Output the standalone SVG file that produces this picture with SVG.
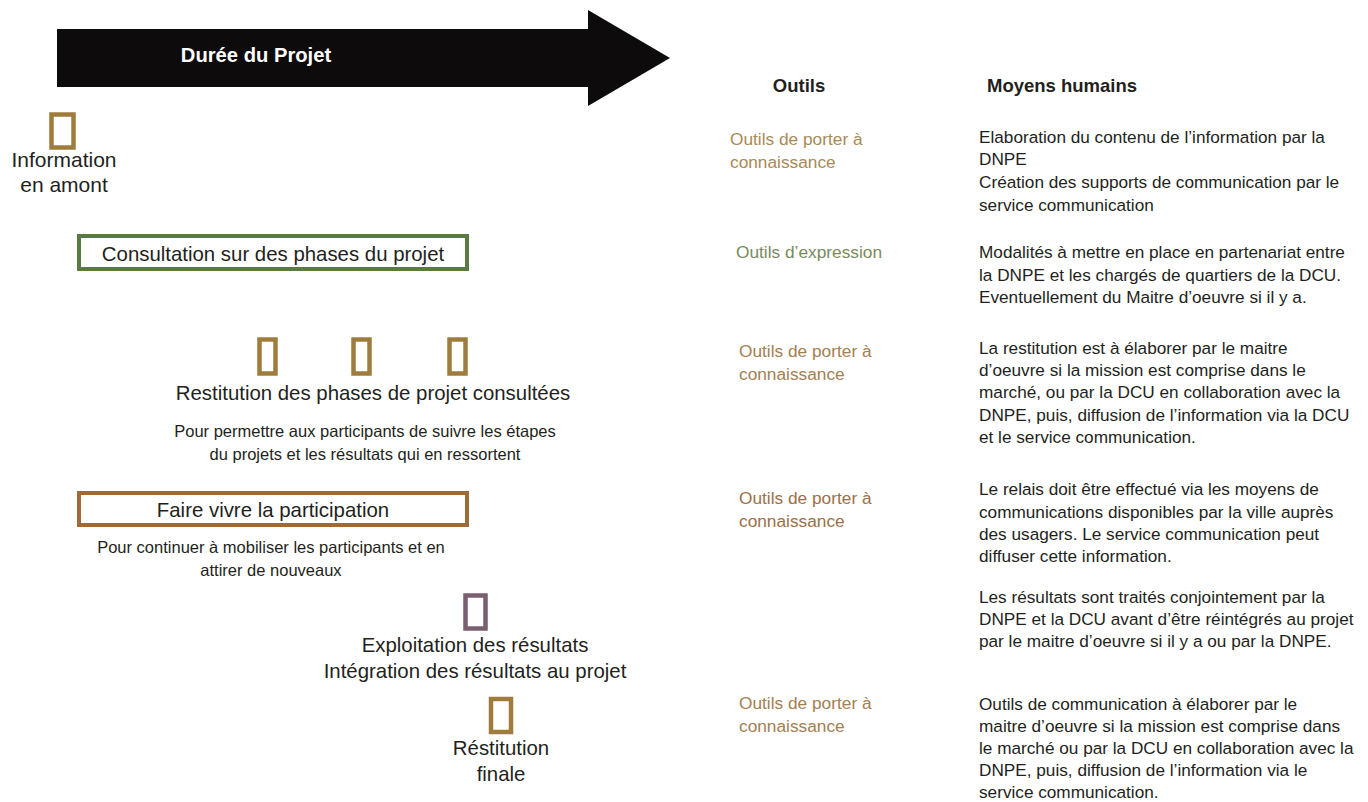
<svg xmlns="http://www.w3.org/2000/svg" width="1368" height="802" viewBox="0 0 1368 802">
<style>
text{font-family:"Liberation Sans","Noto Sans",Arial,sans-serif;fill:#231f20}
.lab{font-size:20.4px}
.lab2{font-size:21px}
.sub{font-size:16.5px}
.hd{font-size:18.5px;font-weight:bold}
.rh{font-size:17.2px}
.tl{font-size:17.3px}
.mk{fill:none;stroke-width:4.5}
.gold{stroke:#a07c3c}
.c{text-anchor:middle}
</style>
<rect width="1368" height="802" fill="#ffffff"/>
<g id="timeline">
<polygon points="57,29 588,29 588,10 670,58 588,106 588,87 57,87" fill="#0d0b0b"/>
<text x="256" y="62" class="c" style="font-size:20.2px;font-weight:bold;fill:#ffffff">Durée du Projet</text>
</g>
<g id="information-amont">
<rect x="51.5" y="114.5" width="22" height="33" class="mk gold"/>
<text x="64" y="167" class="lab2 c">Information</text>
<text x="64" y="192" class="lab2 c">en amont</text>
</g>
<g id="consultation">
<rect x="79" y="236" width="388" height="33" fill="none" stroke="#5b7a41" stroke-width="4"/>
<text x="273" y="261" class="lab c">Consultation sur des phases du projet</text>
</g>
<g id="restitution-phases">
<rect x="259.5" y="339.5" width="16" height="34" class="mk gold"/>
<rect x="353.5" y="339.5" width="16" height="34" class="mk gold"/>
<rect x="449.5" y="339.5" width="16" height="34" class="mk gold"/>
<text x="373" y="400" class="lab c">Restitution des phases de projet consultées</text>
<text x="365" y="437" class="sub c">Pour permettre aux participants de suivre les étapes</text>
<text x="365" y="460" class="sub c">du projets et les résultats qui en ressortent</text>
</g>
<g id="faire-vivre">
<rect x="79" y="493" width="388" height="32" fill="none" stroke="#9e6a38" stroke-width="4"/>
<text x="273" y="517" class="lab c">Faire vivre la participation</text>
<text x="271" y="553" class="sub c">Pour continuer à mobiliser les participants et en</text>
<text x="271" y="576" class="sub c">attirer de nouveaux</text>
</g>
<g id="exploitation">
<rect x="465.5" y="595.5" width="20" height="33" fill="none" stroke="#7a5f70" stroke-width="4.5"/>
<text x="475" y="652" class="lab c">Exploitation des résultats</text>
<text x="475" y="678" class="lab c">Intégration des résultats au projet</text>
</g>
<g id="restitution-finale">
<rect x="491" y="699" width="20" height="33" class="mk gold"/>
<text x="501" y="755" class="lab c">Réstitution</text>
<text x="501" y="781" class="lab c">finale</text>
</g>
<g id="headers">
<text x="799" y="92" class="hd c">Outils</text>
<text x="987" y="92" class="hd">Moyens humains</text>
</g>
<g id="outils">
<text class="tl" style="fill:#a98a55"><tspan x="730" y="145">Outils de porter à</tspan><tspan x="730" y="168">connaissance</tspan></text>
<text class="tl" x="736" y="258" style="fill:#7a8a60">Outils d’expression</text>
<text class="tl" style="fill:#a38050"><tspan x="739" y="357">Outils de porter à</tspan><tspan x="739" y="380">connaissance</tspan></text>
<text class="tl" style="fill:#9c7048"><tspan x="739" y="504">Outils de porter à</tspan><tspan x="739" y="527">connaissance</tspan></text>
<text class="tl" style="fill:#a38050"><tspan x="739" y="709">Outils de porter à</tspan><tspan x="739" y="732">connaissance</tspan></text>
</g>
<g id="moyens">
<text class="rh"><tspan x="979" y="143">Elaboration du contenu de l’information par la</tspan><tspan x="979" y="165">DNPE</tspan><tspan x="979" y="188">Création des supports de communication par le</tspan><tspan x="979" y="211">service communication</tspan></text>
<text class="rh"><tspan x="979" y="258">Modalités à mettre en place en partenariat entre</tspan><tspan x="979" y="281">la DNPE et les chargés de quartiers de la DCU.</tspan><tspan x="979" y="303">Eventuellement du Maitre d’oeuvre si il y a.</tspan></text>
<text class="rh"><tspan x="979" y="354">La restitution est à élaborer par le maitre</tspan><tspan x="979" y="376">d’oeuvre si la mission est comprise dans le</tspan><tspan x="979" y="398">marché, ou par la DCU en collaboration avec la</tspan><tspan x="979" y="421">DNPE, puis, diffusion de l’information via la DCU</tspan><tspan x="979" y="443">et le service communication.</tspan></text>
<text class="rh"><tspan x="979" y="495">Le relais doit être effectué via les moyens de</tspan><tspan x="979" y="518">communications disponibles par la ville auprès</tspan><tspan x="979" y="540">des usagers. Le service communication peut</tspan><tspan x="979" y="562">diffuser cette information.</tspan></text>
<text class="rh"><tspan x="979" y="603">Les résultats sont traités conjointement par la</tspan><tspan x="979" y="625">DNPE et la DCU avant d’être réintégrés au projet</tspan><tspan x="979" y="647">par le maitre d’oeuvre si il y a ou par la DNPE.</tspan></text>
<text class="rh"><tspan x="979" y="710">Outils de communication à élaborer par le</tspan><tspan x="979" y="732">maitre d’oeuvre si la mission est comprise dans</tspan><tspan x="979" y="754">le marché ou par la DCU en collaboration avec la</tspan><tspan x="979" y="776">DNPE, puis, diffusion de l’information via le</tspan><tspan x="979" y="798">service communication.</tspan></text>
</g>
</svg>
